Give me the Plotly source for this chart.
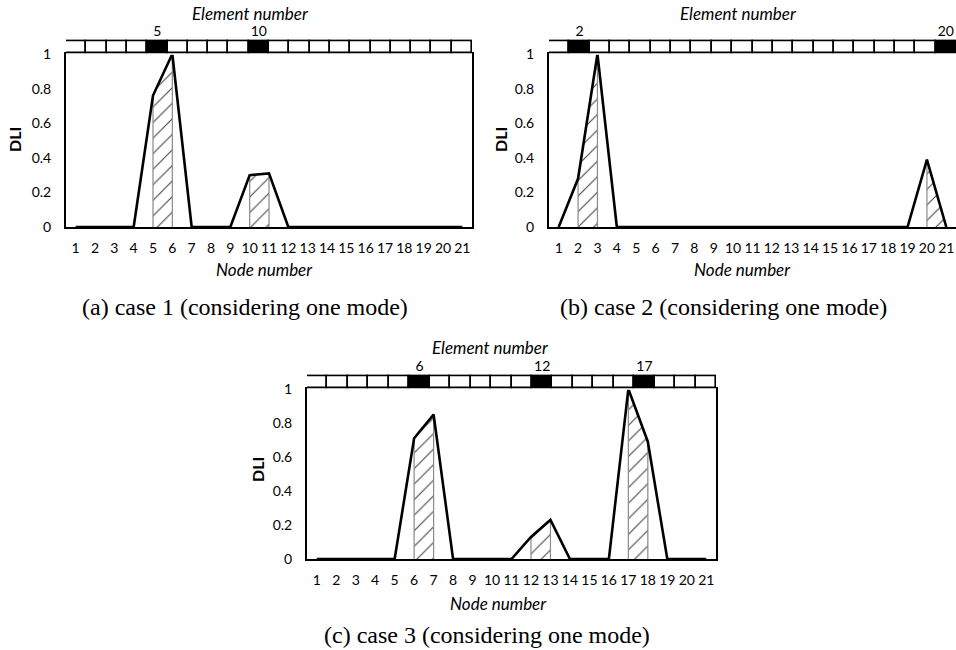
import plotly.graph_objects as go

# ---------------- data ----------------
nodes = list(range(1, 22))
elements = list(range(1, 21))

dli_case1 = [0, 0, 0, 0, 0.76, 1.0, 0, 0, 0, 0.30, 0.31, 0, 0, 0, 0, 0, 0, 0, 0, 0, 0]
dli_case2 = [0, 0.28, 1.0, 0, 0, 0, 0, 0, 0, 0, 0, 0, 0, 0, 0, 0, 0, 0, 0, 0.39, 0]
dli_case3 = [0, 0, 0, 0, 0, 0.71, 0.85, 0, 0, 0, 0, 0.13, 0.23, 0, 0, 0, 1.0, 0.69, 0, 0, 0]

damaged_case1 = [5, 10]
damaged_case2 = [2, 20]
damaged_case3 = [6, 12, 17]

y_ticks = [0, 0.2, 0.4, 0.6, 0.8, 1.0]
y_ticktext = ["0", "0.2", "0.4", "0.6", "0.8", "1"]

captions = ["(a) case 1 (considering one mode)",
            "(b) case 2 (considering one mode)",
            "(c) case 3 (considering one mode)"]

# ---------------- layout geometry (pixels) ----------------
W, H = 956, 650
panels = [
    dict(x0=66, x1=472, yt=54, yb=227, st=41, sb=53, cx=245, cy=307, ex=250, ey=14, nx=264, ny=269, dx=14, dy=140),
    dict(x0=549, x1=956, yt=54, yb=227, st=41, sb=53, cx=723, cy=307, ex=738, ey=14, nx=742, ny=269, dx=500, dy=140),
    dict(x0=307, x1=716, yt=389, yb=559, st=376, sb=388, cx=487, cy=635, ex=490, ey=347, nx=498, ny=603, dx=257, dy=470),
]
datasets = [(dli_case1, damaged_case1), (dli_case2, damaged_case2), (dli_case3, damaged_case3)]

TICK_FONT = dict(family="Lato", size=14, color="black")
TITLE_FONT = dict(family="Lato", size=17, color="black")
PAD = 0.15  # padding of strip axis range so the cell outlines are fully drawn

fig = go.Figure()
layout = dict(width=W, height=H, margin=dict(l=0, r=0, t=0, b=0, autoexpand=False),
              template="none",
              paper_bgcolor="white", plot_bgcolor="white",
              showlegend=False, bargap=0, annotations=[])


def px_x(x):
    return x / W


def px_y(y):
    return 1 - y / H


for i, (p, (vals, damaged)) in enumerate(zip(panels, datasets)):
    main_idx = 2 * i + 1
    strip_idx = 2 * i + 2
    mx = "x" if main_idx == 1 else f"x{main_idx}"
    my = "y" if main_idx == 1 else f"y{main_idx}"
    sx = f"x{strip_idx}"
    sy = f"y{strip_idx}"

    # hatched regions for damaged elements (between node k and k+1)
    for e in damaged:
        xs = [nodes[e - 1], nodes[e - 1], nodes[e], nodes[e]]
        ys = [0, vals[e - 1], vals[e], 0]
        fig.add_trace(go.Scatter(
            x=xs, y=ys, mode="lines", fill="toself",
            fillcolor="white",
            fillpattern=dict(shape="/", fgcolor="#444444", bgcolor="white",
                             size=11, solidity=0.1),
            line=dict(color="#8a8a8a", width=1.2),
            xaxis=mx, yaxis=my, hoverinfo="skip"))

    # DLI line
    fig.add_trace(go.Scatter(
        x=nodes, y=vals, mode="lines",
        line=dict(color="black", width=2.6),
        xaxis=mx, yaxis=my, cliponaxis=False))

    # element strip
    colors = ["black" if e in damaged else "white" for e in elements]
    fig.add_trace(go.Bar(
        x=elements, y=[1] * len(elements), base=0,
        marker=dict(color=colors, line=dict(color="black", width=1.6)),
        xaxis=sx, yaxis=sy, hoverinfo="skip", cliponaxis=False))

    dom_x = [px_x(p["x0"]), px_x(p["x1"])]
    h = p["sb"] - p["st"]
    layout["xaxis" if main_idx == 1 else f"xaxis{main_idx}"] = dict(
        domain=dom_x, range=[0.5, 21.5], tickvals=nodes,
        ticktext=[str(n) for n in nodes], tickfont=TICK_FONT, tickangle=0,
        showgrid=False, zeroline=False, showline=True, mirror=True,
        linecolor="black", linewidth=2, ticks="", ticklabelstandoff=7,
        anchor=my, fixedrange=True, automargin=False)
    layout["yaxis" if main_idx == 1 else f"yaxis{main_idx}"] = dict(
        domain=[px_y(p["yb"]), px_y(p["yt"])], range=[0, 1.0],
        tickvals=y_ticks, ticktext=y_ticktext, tickfont=TICK_FONT,
        showgrid=False, zeroline=False, showline=True, mirror=True,
        linecolor="black", linewidth=2, ticks="", ticklabelstandoff=10,
        anchor=mx, fixedrange=True, automargin=False)
    layout[f"xaxis{strip_idx}"] = dict(
        domain=dom_x, range=[0.5, 20.5], side="top",
        tickvals=damaged, ticktext=[str(d) for d in damaged],
        tickfont=TICK_FONT, tickangle=0, showgrid=False, zeroline=False,
        showline=False, ticks="", ticklabelstandoff=-1,
        anchor=sy, fixedrange=True, automargin=False)
    layout[f"yaxis{strip_idx}"] = dict(
        domain=[px_y(p["sb"] + PAD * h), px_y(p["st"] - PAD * h)],
        range=[-PAD, 1 + PAD],
        showticklabels=False, showgrid=False, zeroline=False,
        showline=False, anchor=sx, fixedrange=True, automargin=False)

    ann = layout["annotations"]
    ann.append(dict(text="<i>Element number</i>", x=px_x(p["ex"]), y=px_y(p["ey"]),
                    xref="paper", yref="paper", showarrow=False, font=TITLE_FONT,
                    xanchor="center", yanchor="middle"))
    ann.append(dict(text="<i>Node number</i>", x=px_x(p["nx"]), y=px_y(p["ny"]),
                    xref="paper", yref="paper", showarrow=False, font=TITLE_FONT,
                    xanchor="center", yanchor="middle"))
    ann.append(dict(text="<b>DLI</b>", x=px_x(p["dx"]), y=px_y(p["dy"]),
                    xref="paper", yref="paper", showarrow=False, textangle=-90,
                    font=dict(family="Lato", size=16, color="black"),
                    xanchor="center", yanchor="middle"))
    ann.append(dict(text=captions[i], x=px_x(p["cx"]), y=px_y(p["cy"]),
                    xref="paper", yref="paper", showarrow=False,
                    font=dict(family="Liberation Serif", size=24, color="black"),
                    xanchor="center", yanchor="middle"))

fig.update_layout(**layout)
fig.write_html("out.html")
